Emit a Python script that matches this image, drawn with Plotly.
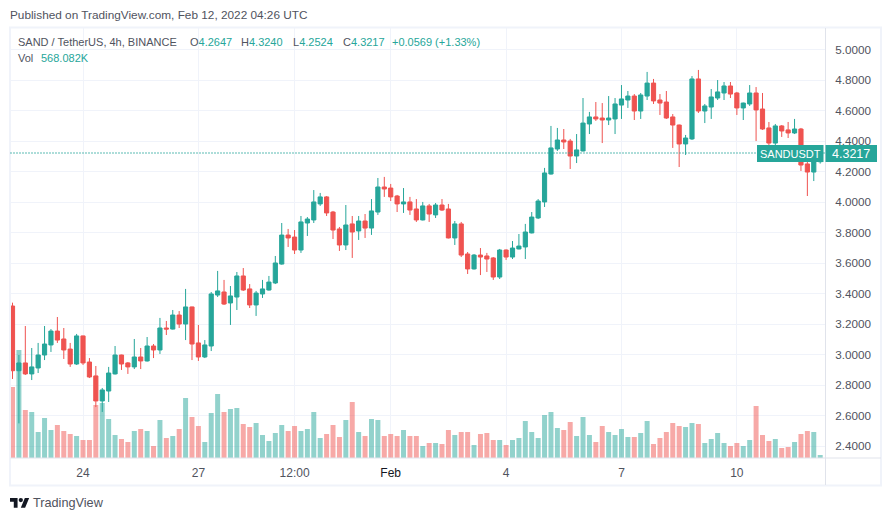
import pandas as pd
import plotly.graph_objects as go

# page body keeps its 8px margin, so the figure is 8px smaller and everything shifts by that
PAGE = 8
W = 891 - PAGE
H = 521 - PAGE
GREEN = '#26a69a'
RED = '#ef5350'
GRID = '#f0f3fa'
TEXT = '#50535e'
FONT = 'Liberation Sans'

opens = [3.319, 2.895, 2.946, 2.874, 2.913, 2.998, 3.064, 3.155, 3.103, 3.037,
	2.939, 3.123, 2.952, 2.861, 2.697, 2.762, 2.874, 2.998, 2.946, 2.920,
	2.985, 2.959, 3.057, 3.031, 3.175, 3.168, 3.260, 3.201, 3.313, 3.077,
	2.985, 3.057, 3.391, 3.411, 3.339, 3.378, 3.516, 3.431, 3.326, 3.398,
	3.424, 3.470, 3.594, 3.784, 3.771, 3.686, 3.863, 3.883, 3.988, 4.034,
	3.935, 3.824, 3.719, 3.857, 3.811, 3.876, 3.830, 3.935, 4.099, 4.092,
	4.040, 3.988, 4.001, 3.955, 3.883, 3.975, 3.916, 3.981, 3.955, 3.765,
	3.857, 3.660, 3.562, 3.653, 3.647, 3.634, 3.509, 3.686, 3.640, 3.693,
	3.706, 3.798, 3.896, 4.001, 4.184, 4.348, 4.407, 4.400, 4.302, 4.335,
	4.512, 4.558, 4.551, 4.538, 4.545, 4.636, 4.669, 4.695, 4.597, 4.695,
	4.780, 4.669, 4.656, 4.558, 4.505, 4.381, 4.414, 4.807, 4.597, 4.623,
	4.682, 4.715, 4.761, 4.715, 4.617, 4.643, 4.715, 4.610, 4.486, 4.387,
	4.499, 4.473, 4.453, 4.479, 4.250, 4.197, 4.2647]
highs = [3.341, 2.998, 3.188, 3.044, 3.077, 3.188, 3.168, 3.247, 3.175, 3.077,
	3.136, 3.125, 2.978, 2.926, 2.782, 2.920, 3.057, 3.000, 2.952, 3.103,
	3.044, 3.116, 3.070, 3.241, 3.221, 3.293, 3.286, 3.431, 3.315, 3.195,
	3.096, 3.411, 3.549, 3.490, 3.450, 3.542, 3.568, 3.463, 3.418, 3.490,
	3.516, 3.647, 3.863, 3.824, 3.817, 3.909, 3.902, 4.079, 4.060, 4.040,
	3.942, 3.837, 3.981, 3.909, 3.909, 3.922, 4.020, 4.158, 4.165, 4.119,
	4.047, 4.092, 4.034, 4.020, 4.001, 3.988, 3.994, 4.020, 3.988, 3.876,
	3.870, 3.673, 3.660, 3.699, 3.667, 3.640, 3.693, 3.690, 3.745, 3.791,
	3.857, 3.935, 4.020, 4.224, 4.499, 4.486, 4.479, 4.414, 4.446, 4.682,
	4.591, 4.656, 4.649, 4.695, 4.682, 4.767, 4.728, 4.708, 4.715, 4.853,
	4.807, 4.708, 4.728, 4.577, 4.508, 4.440, 4.826, 4.866, 4.643, 4.741,
	4.800, 4.787, 4.787, 4.722, 4.652, 4.767, 4.754, 4.715, 4.525, 4.512,
	4.505, 4.525, 4.545, 4.486, 4.276, 4.290, 4.3240]
lows = [2.841, 2.550, 2.867, 2.834, 2.880, 2.965, 3.018, 3.077, 2.972, 2.920,
	2.933, 2.933, 2.847, 2.657, 2.625, 2.690, 2.870, 2.900, 2.874, 2.906,
	2.906, 2.955, 2.978, 3.005, 3.129, 3.165, 3.175, 3.096, 2.965, 2.959,
	2.978, 3.024, 3.378, 3.326, 3.195, 3.293, 3.418, 3.306, 3.254, 3.372,
	3.420, 3.463, 3.590, 3.706, 3.660, 3.667, 3.778, 3.863, 3.975, 3.909,
	3.758, 3.680, 3.686, 3.634, 3.752, 3.765, 3.785, 3.916, 4.034, 4.007,
	3.935, 3.929, 3.916, 3.870, 3.880, 3.870, 3.896, 3.942, 3.762, 3.719,
	3.640, 3.529, 3.558, 3.522, 3.542, 3.490, 3.496, 3.621, 3.627, 3.690,
	3.627, 3.795, 3.889, 3.968, 4.180, 4.335, 4.348, 4.217, 4.256, 4.332,
	4.446, 4.532, 4.387, 4.505, 4.446, 4.545, 4.617, 4.538, 4.545, 4.669,
	4.643, 4.571, 4.545, 4.355, 4.230, 4.309, 4.407, 4.584, 4.518, 4.545,
	4.669, 4.669, 4.682, 4.571, 4.538, 4.630, 4.400, 4.473, 4.374, 4.374,
	4.427, 4.420, 4.446, 4.204, 4.040, 4.138, 4.2524]
closes = [2.895, 2.946, 2.874, 2.920, 2.998, 3.070, 3.155, 3.096, 3.031, 2.939,
	3.123, 2.946, 2.854, 2.697, 2.769, 2.880, 2.998, 2.939, 2.920, 2.985,
	2.959, 3.057, 3.031, 3.175, 3.168, 3.260, 3.201, 3.313, 3.070, 2.985,
	3.064, 3.398, 3.418, 3.332, 3.385, 3.516, 3.424, 3.326, 3.404, 3.431,
	3.476, 3.601, 3.784, 3.765, 3.686, 3.870, 3.889, 4.001, 4.034, 3.929,
	3.817, 3.719, 3.850, 3.804, 3.876, 3.830, 3.942, 4.099, 4.086, 4.034,
	3.988, 4.001, 3.948, 3.883, 3.975, 3.922, 3.981, 3.948, 3.765, 3.857,
	3.653, 3.562, 3.653, 3.640, 3.627, 3.509, 3.686, 3.640, 3.699, 3.712,
	3.804, 3.902, 4.007, 4.191, 4.355, 4.407, 4.394, 4.302, 4.342, 4.518,
	4.558, 4.545, 4.538, 4.551, 4.643, 4.676, 4.695, 4.597, 4.702, 4.780,
	4.663, 4.649, 4.551, 4.505, 4.381, 4.420, 4.807, 4.597, 4.630, 4.689,
	4.722, 4.761, 4.708, 4.617, 4.649, 4.715, 4.604, 4.479, 4.387, 4.499,
	4.466, 4.453, 4.479, 4.243, 4.197, 4.2647, 4.3217]
# volume in millions
volumes = [13.42, 20.41, 9.07, 8.69, 4.91, 7.56, 5.29, 6.24, 5.10, 4.54,
	4.16, 3.40, 3.40, 10.02, 10.40, 7.37, 4.35, 3.59, 3.02, 5.10,
	5.48, 5.10, 2.27, 7.18, 3.78, 4.16, 5.48, 11.34, 7.75, 6.05,
	3.02, 8.51, 12.10, 8.69, 9.26, 9.45, 6.43, 5.86, 6.62, 4.35,
	3.21, 4.73, 6.24, 5.10, 6.05, 5.10, 5.48, 8.69, 3.78, 4.54,
	6.24, 3.97, 7.18, 10.58, 4.91, 4.16, 7.37, 7.18, 4.16, 4.54,
	4.16, 5.29, 4.16, 4.16, 2.27, 2.84, 2.84, 2.65, 5.29, 4.35,
	4.91, 4.91, 2.46, 4.54, 4.73, 3.40, 3.40, 2.46, 3.40, 3.78,
	6.99, 4.91, 3.78, 8.13, 8.69, 5.67, 5.29, 6.80, 4.16, 7.75,
	4.35, 3.02, 6.05, 4.91, 4.35, 5.48, 3.97, 3.97, 4.73, 6.99,
	2.65, 3.78, 4.91, 6.62, 6.05, 5.86, 6.62, 6.43, 2.84, 3.59,
	4.73, 2.84, 2.27, 2.84, 2.27, 3.40, 9.83, 4.35, 3.21, 3.59,
	1.89, 2.08, 3.02, 4.54, 5.10, 4.91, 0.568]

price_ticks = [2.4, 2.6, 2.8, 3.0, 3.2, 3.4, 3.6, 3.8, 4.0, 4.2, 4.4, 4.6, 4.8, 5.0]
date_ticks = ['2022-01-24', '2022-01-27', '2022-01-29 12:00', '2022-02-01', '2022-02-04', '2022-02-07', '2022-02-10']
date_labels = ['24', '27', '12:00', '<span style="color:#131722">Feb</span>', '4', '7', '10']
last_price = 4.3217

dates = pd.date_range('2022-01-22 04:00', periods=len(closes), freq='4h')
bar_colors = ['rgba(38,166,154,0.5)' if c >= o else 'rgba(239,83,80,0.5)' for o, c in zip(opens, closes)]


# reference pixel -> paper fraction
def px(x):
	return (x - PAGE) / W


def py(y):
	return 1 - (y - PAGE) / H


def label(x, y, text, color=TEXT, size=11, anchor='left'):
	return dict(xref='paper', yref='paper', x=px(x), y=py(y), text=text, showarrow=False,
		xanchor=anchor, yanchor='middle', align=anchor, borderpad=0, xshift=-1 if anchor == 'left' else 0,
		font=dict(family=FONT, size=size, color=color))


def box(x0, y0, x1, y1, **kw):
	return dict(type='rect', xref='paper', yref='paper', x0=px(x0), x1=px(x1), y0=py(y0), y1=py(y1), **kw)


# TradingView mark, drawn in its own 36x28 box
def logo_xy(x, y):
	return '%.5f,%.5f' % (px(10 + x * 0.54), py(495.8 + y * 0.54))


logo = 'M' + ' L'.join(logo_xy(*p) for p in [(14, 22), (7, 22), (7, 11), (0, 11), (0, 4), (14, 4)]) + ' Z '
logo += 'M' + ' L'.join(logo_xy(*p) for p in [(28, 22), (20, 22), (27.5, 4), (35.5, 4)]) + ' Z'

trace_vol = go.Bar(x=dates, y=volumes, width=11200000, marker=dict(color=bar_colors, line_width=0), yaxis='y')
trace_price = go.Candlestick(x=dates, open=opens, high=highs, low=lows, close=closes, yaxis='y2',
	increasing=dict(line=dict(color=GREEN, width=1), fillcolor=GREEN),
	decreasing=dict(line=dict(color=RED, width=1), fillcolor=RED),
	whiskerwidth=0)

fig = go.Figure(data=[trace_vol, trace_price])

fig.update_layout(
	width=W, height=H,
	margin=dict(l=0, r=0, t=0, b=0),
	paper_bgcolor='white', plot_bgcolor='white',
	showlegend=False,
	boxgap=0.35, boxgroupgap=0,
	font=dict(family=FONT, size=12, color=TEXT),
	xaxis=dict(domain=[px(10.5), px(825)], range=['2022-01-22 02:45', '2022-02-12 07:00'],
		rangeslider=dict(visible=False), tickmode='array', tickvals=date_ticks, ticktext=date_labels,
		showgrid=True, gridcolor=GRID, gridwidth=1, ticks='outside', ticklen=4, tickcolor='white',
		tickfont=dict(family=FONT, size=12, color=TEXT), showline=False, zeroline=False),
	yaxis=dict(domain=[py(458), py(28)], range=[0, 81.27], showgrid=False, showticklabels=False,
		zeroline=False, ticks=''),
	yaxis2=dict(domain=[py(458), py(28)], overlaying='y', side='right', anchor='x', range=[2.3231, 5.1409],
		tickmode='array', tickvals=price_ticks, tickformat='.4f', showgrid=True, gridcolor=GRID, gridwidth=1,
		ticks='outside', ticklen=7, tickcolor='white', tickfont=dict(family=FONT, size=11.7, color=TEXT),
		zeroline=False, showline=False),
	shapes=[
		box(10, 27.5, 881, 485.5, line=dict(color=GRID, width=2)),
		dict(type='line', xref='paper', yref='paper', x0=px(825.5), x1=px(825.5), y0=py(28), y1=py(485), line=dict(color='#e0e3eb', width=1)),
		dict(type='line', xref='paper', yref='paper', x0=px(10.5), x1=px(881), y0=py(458), y1=py(458), line=dict(color='#e0e3eb', width=1)),
		dict(type='line', xref='x domain', yref='y2', x0=0, x1=1, y0=last_price, y1=last_price, line=dict(color=GREEN, width=1.3, dash='1px,2px')),
		box(757, 145, 823.5, 162, fillcolor=GREEN, line_width=0, layer='above'),
		box(825.5, 145, 877, 162, fillcolor=GREEN, line_width=0, layer='above'),
		dict(type='path', xref='paper', yref='paper', path=logo, fillcolor='#131722', line_width=0),
		dict(type='circle', xref='paper', yref='paper', x0=px(10 + 16 * 0.54), x1=px(10 + 24 * 0.54), y0=py(495.8 + 4 * 0.54), y1=py(495.8 + 12 * 0.54), fillcolor='#131722', line_width=0),
	],
	annotations=[
		label(10, 15, 'Published on TradingView.com, Feb 12, 2022 04:26 UTC', size=11.8),
		label(18, 42, 'SAND / TetherUS, 4h, BINANCE'),
		label(190, 42, 'O<span style="color:%s">4.2647</span>' % GREEN),
		label(241, 42, 'H<span style="color:%s">4.3240</span>' % GREEN),
		label(293, 42, 'L<span style="color:%s">4.2524</span>' % GREEN),
		label(343, 42, 'C<span style="color:%s">4.3217</span>' % GREEN),
		label(392, 42, '+0.0569 (+1.33%)', color=GREEN),
		label(18, 58, 'Vol'),
		label(41, 58, '568.082K', color=GREEN),
		label(790, 153.5, 'SANDUSDT', color='white', size=11, anchor='center'),
		label(851, 153.5, '4.3217', color='white', anchor='center', size=12.5),
		label(33, 503, 'TradingView', size=12.7),
	],
)

fig.write_html("out.html")
